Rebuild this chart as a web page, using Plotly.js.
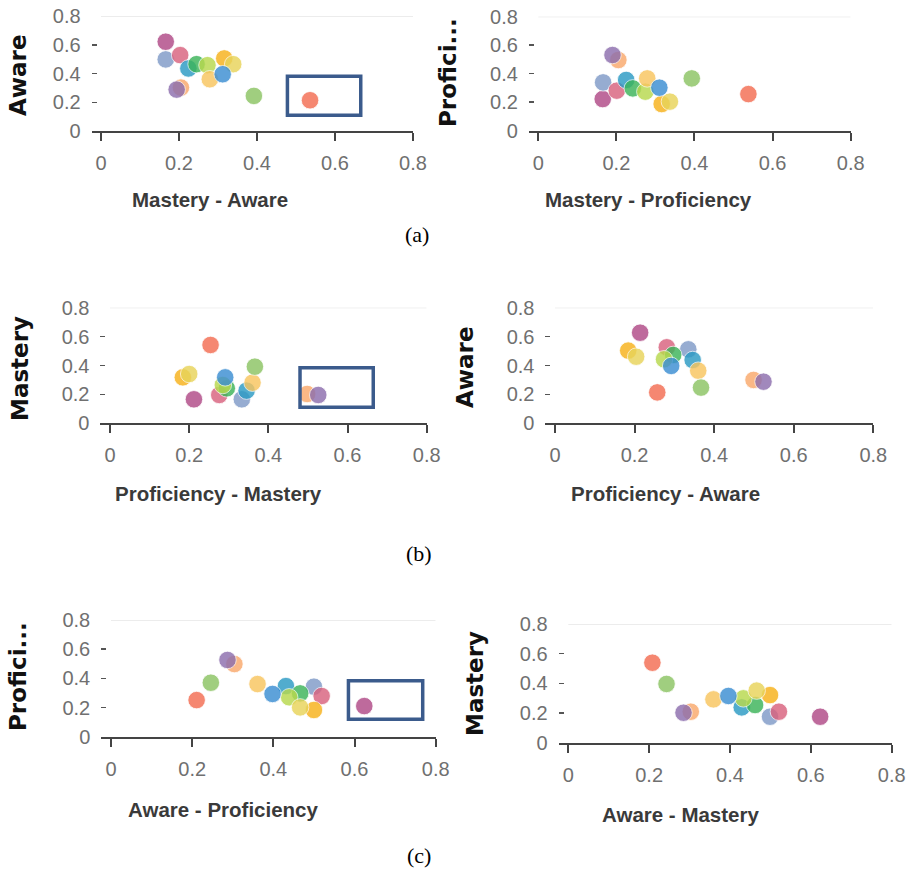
<!DOCTYPE html>
<html><head><meta charset="utf-8">
<script src="https://cdn.plot.ly/plotly-3.0.1.min.js"></script>
<style>html,body{margin:0;padding:0;background:#fff}#chart{width:913px;height:874px}</style>
</head><body><div id="chart"></div>
<script>
// Point categories (one colour each), same order in every panel
const pointNames = ["magenta","slate","rose","teal","green","lime","gold","paleYellow","lightOrange","blue","peach","purple","lightGreen","coral"];
const pointColors = ["#b04a87","#7f9bc8","#d9627e","#2b9ac4","#3cb45a","#b8d94e","#f7b21a","#e8d45a","#f8c55f","#3b8ed3","#f9a96c","#8d6fae","#8cc464","#f36d52"];

// (a) left: Mastery - Aware vs Aware
const aLeftX = [0.166,0.166,0.203,0.224,0.245,0.273,0.316,0.339,0.279,0.312,0.205,0.194,0.392,0.536];
const aLeftY = [0.621,0.498,0.528,0.435,0.465,0.458,0.505,0.465,0.360,0.395,0.302,0.288,0.244,0.214];
// (a) right: Mastery - Proficiency vs Proficiency
const aRightX = [0.165,0.166,0.201,0.225,0.242,0.274,0.316,0.337,0.279,0.310,0.205,0.190,0.393,0.538];
const aRightY = [0.222,0.339,0.281,0.356,0.297,0.274,0.187,0.204,0.367,0.302,0.496,0.531,0.367,0.257];
// (b) left: Proficiency - Mastery vs Mastery
const bLeftX = [0.212,0.333,0.276,0.345,0.295,0.285,0.184,0.200,0.360,0.291,0.498,0.526,0.366,0.254];
const bLeftY = [0.166,0.166,0.196,0.226,0.242,0.265,0.318,0.341,0.281,0.318,0.203,0.196,0.392,0.542];
// (b) right: Proficiency - Aware vs Aware
const bRightX = [0.214,0.335,0.281,0.346,0.297,0.274,0.184,0.204,0.360,0.292,0.499,0.524,0.367,0.257];
const bRightY = [0.627,0.512,0.526,0.438,0.473,0.443,0.503,0.461,0.364,0.397,0.300,0.288,0.247,0.214];
// (c) left: Aware - Proficiency vs Proficiency
const cLeftX = [0.624,0.500,0.519,0.431,0.466,0.439,0.500,0.466,0.361,0.398,0.304,0.287,0.246,0.211];
const cLeftY = [0.210,0.343,0.279,0.347,0.297,0.270,0.183,0.201,0.361,0.293,0.498,0.526,0.370,0.251];
// (c) right: Aware - Mastery vs Mastery
const cRightX = [0.623,0.499,0.521,0.429,0.462,0.433,0.499,0.466,0.359,0.396,0.303,0.285,0.243,0.208];
const cRightY = [0.175,0.175,0.209,0.238,0.254,0.299,0.321,0.351,0.292,0.315,0.209,0.202,0.396,0.539];

const xTitles = ["Mastery - Aware","Mastery - Proficiency","Proficiency - Mastery","Proficiency - Aware","Aware - Proficiency","Aware - Mastery"];
const yTitles = ["Aware","Profici...","Mastery","Aware","Profici...","Mastery"];
const captions = ["(a)","(b)","(c)"];
const tickVals = [0,0.2,0.4,0.6,0.8];
const tickText = ["0","0.2","0.4","0.6","0.8"];

const W=913,H=874;
const SANS = 'Arial, "Liberation Sans", sans-serif';
const panels = [
  {x:aLeftX, y:aLeftY, x0:101, x8:413, y0:131, y8:16, xt:[210,199], yt:[18,75], box:[0.478,0.666,0.109,0.381]},
  {x:aRightX,y:aRightY,x0:538.3,x8:850.7,y0:130.7,y8:16.7, xt:[648,199], yt:[448,73]},
  {x:bLeftX, y:bLeftY, x0:110, x8:426.7, y0:423.3, y8:307.7, xt:[218,493], yt:[20,369], box:[0.480,0.665,0.111,0.385]},
  {x:bRightX,y:bRightY,x0:555, x8:873.3, y0:423.3, y8:307.7, xt:[665,493], yt:[465,367]},
  {x:cLeftX, y:cLeftY, x0:111, x8:435.7, y0:736.7, y8:620, xt:[223,809], yt:[18,677], box:[0.585,0.768,0.119,0.384]},
  {x:cRightX,y:cRightY,x0:568.3,x8:891.7,y0:742.7, y8:624, xt:[680,814], yt:[475,683]}
];
const capPos = [[417,235],[419,553],[419,855]];

const data=[], layout={width:W,height:H,margin:{l:0,r:0,t:0,b:0},showlegend:false,
  paper_bgcolor:"#fff",plot_bgcolor:"rgba(0,0,0,0)",shapes:[],annotations:[]};
const xmin=-0.024;
panels.forEach((p,i)=>{
  const s = i===0?"":String(i+1);
  const ppu=(p.x8-p.x0)/0.8;
  const left=p.x0+xmin*ppu;
  data.push({type:"scatter",mode:"markers",x:p.x,y:p.y,xaxis:"x"+s,yaxis:"y"+s,
    text:pointNames,hoverinfo:"x+y+text",cliponaxis:false,
    marker:{size:17.5,color:pointColors,opacity:0.82,line:{color:"#ffffff",width:0.8}}});
  layout["xaxis"+s]={domain:[left/W,p.x8/W],anchor:"y"+s,range:[xmin,0.8],
    tickvals:tickVals,ticktext:tickText,showgrid:false,zeroline:false,
    showline:true,linecolor:"#444",linewidth:2,ticks:"outside",ticklen:8,tickwidth:2,tickcolor:"#444",
    ticklabelstandoff:5,tickfont:{family:SANS,size:20,color:"#707070"},fixedrange:true};
  layout["yaxis"+s]={domain:[1-p.y0/H,1-p.y8/H],anchor:"x"+s,range:[0,0.8],
    tickvals:tickVals,ticktext:tickText,showgrid:false,zeroline:false,showline:false,
    ticks:"inside",ticklen:5,tickwidth:1.5,tickcolor:"#555",ticklabelstandoff:10,
    tickfont:{family:SANS,size:20,color:"#707070"},fixedrange:true};
  layout.shapes.push({type:"line",xref:"x"+s,yref:"y"+s,x0:0,x1:0.8,y0:0.8,y1:0.8,
    line:{color:"#d9d9d9",width:1},layer:"below"});
  if(p.box){
    layout.shapes.push({type:"rect",xref:"x"+s,yref:"y"+s,x0:p.box[0],x1:p.box[1],y0:p.box[2],y1:p.box[3],
      line:{color:"#3b5b8c",width:3.5},fillcolor:"rgba(0,0,0,0)"});
  }
  layout.annotations.push({xref:"paper",yref:"paper",x:p.xt[0]/W,y:1-p.xt[1]/H,xanchor:"center",yanchor:"middle",
    showarrow:false,text:"<b>"+xTitles[i]+"</b>",font:{family:SANS,size:20.5,color:"#3a3a3a"}});
  layout.annotations.push({xref:"paper",yref:"paper",x:p.yt[0]/W,y:1-p.yt[1]/H,xanchor:"center",yanchor:"middle",
    showarrow:false,textangle:-90,text:"<b>"+yTitles[i]+"</b>",font:{family:"DejaVu Sans",size:23,color:"#111"}});
});
captions.forEach((c,i)=>{
  layout.annotations.push({xref:"paper",yref:"paper",x:capPos[i][0]/W,y:1-capPos[i][1]/H,xanchor:"center",yanchor:"middle",
    showarrow:false,text:c,font:{family:'"Liberation Serif", "Times New Roman", serif',size:22,color:"#000"}});
});
Plotly.newPlot("chart",data,layout,{displayModeBar:false,staticPlot:true});
</script></body></html>
